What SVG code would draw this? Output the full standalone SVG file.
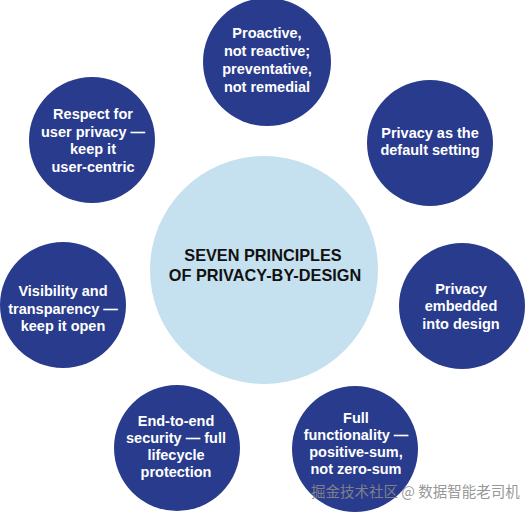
<svg xmlns="http://www.w3.org/2000/svg" width="532" height="514" viewBox="0 0 532 514">
<style>
.p{fill:#293b8c}
.t{font-family:"Liberation Sans",Arial,sans-serif;font-weight:bold;font-size:14.5px;fill:#ffffff;text-anchor:middle}
.c{font-family:"Liberation Sans",Arial,sans-serif;font-weight:bold;font-size:16.3px;fill:#111111;text-anchor:middle}
.w{font-family:"Noto Sans CJK SC","Liberation Sans",sans-serif;font-size:14.5px;fill:#8a8a8a;fill-opacity:0.9}
</style>
<rect width="532" height="514" fill="#ffffff"/>
<g id="connectors"/>
<g id="center">
<circle cx="264" cy="270" r="114" fill="#c5e0ef"/>
<text class="c" x="263" y="261">SEVEN PRINCIPLES</text>
<text class="c" x="265" y="281">OF PRIVACY-BY-DESIGN</text>
</g>
<g id="proactive">
<circle class="p" cx="267" cy="62" r="64"/>
<text class="t" x="267" y="38">Proactive,</text>
<text class="t" x="267" y="56">not reactive;</text>
<text class="t" x="267" y="74">preventative,</text>
<text class="t" x="267" y="92">not remedial</text>
</g>
<g id="default">
<circle class="p" cx="430" cy="143" r="63"/>
<text class="t" x="430" y="138">Privacy as the</text>
<text class="t" x="430" y="155">default setting</text>
</g>
<g id="embedded">
<circle class="p" cx="462" cy="306" r="63"/>
<text class="t" x="461" y="294">Privacy</text>
<text class="t" x="461" y="311">embedded</text>
<text class="t" x="461" y="329">into design</text>
</g>
<g id="functionality">
<circle class="p" cx="355" cy="449" r="63"/>
<text class="t" x="356" y="423">Full</text>
<text class="t" x="356" y="440">functionality —</text>
<text class="t" x="356" y="457">positive-sum,</text>
<text class="t" x="356" y="474">not zero-sum</text>
</g>
<g id="security">
<circle class="p" cx="177" cy="448" r="63"/>
<text class="t" x="176" y="426">End-to-end</text>
<text class="t" x="176" y="443">security — full</text>
<text class="t" x="176" y="460">lifecycle</text>
<text class="t" x="176" y="477">protection</text>
</g>
<g id="visibility">
<circle class="p" cx="63" cy="305" r="63"/>
<text class="t" x="63" y="296">Visibility and</text>
<text class="t" x="63" y="314">transparency —</text>
<text class="t" x="63" y="331">keep it open</text>
</g>
<g id="respect">
<circle class="p" cx="92" cy="140" r="63"/>
<text class="t" x="93" y="119">Respect for</text>
<text class="t" x="93" y="137">user privacy —</text>
<text class="t" x="93" y="154">keep it</text>
<text class="t" x="93" y="172">user-centric</text>
</g>
<text class="w" x="311" y="497">掘金技术社区 @ 数据智能老司机</text>
</svg>
